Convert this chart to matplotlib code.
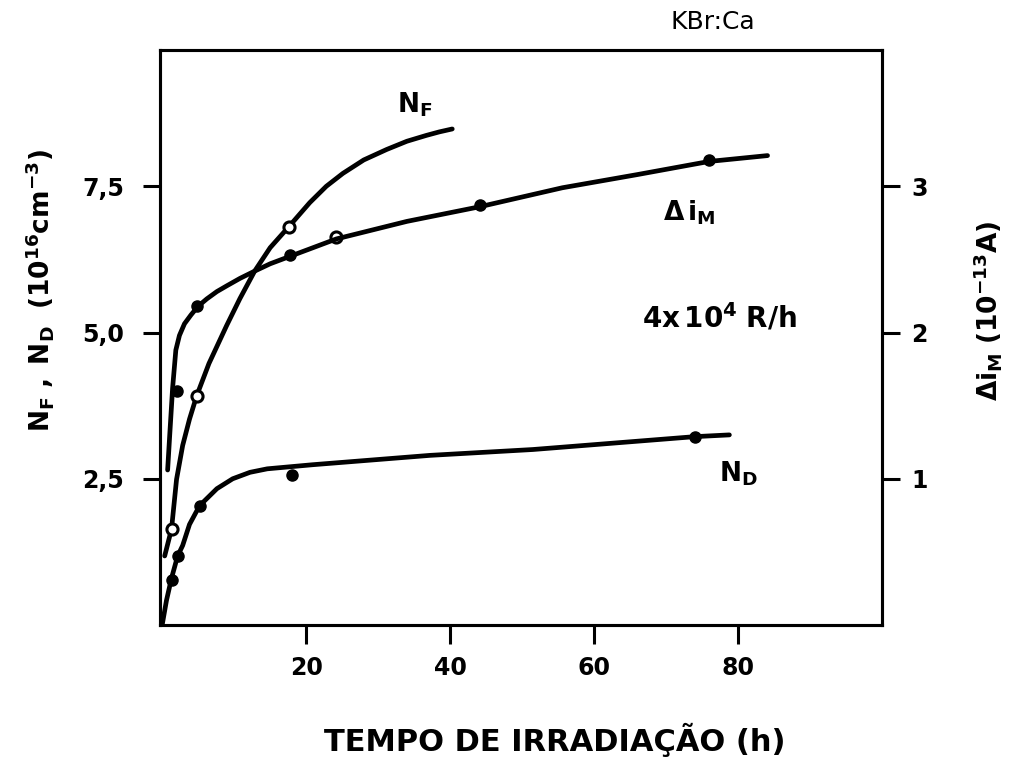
import matplotlib
matplotlib.use("Agg")
import matplotlib.pyplot as plt

# ---- data ----
# N_F curve (left axis, 10^16 cm^-3)
nf_curve_x = [0.35, 1.3, 2.0, 2.85, 3.8, 4.8, 6.5, 8.96, 10.8, 12.85, 15.0, 17.6, 20.5,
              22.8, 25.1, 28.0, 31.2, 34.0, 36.7, 38.5, 40.3]
nf_curve_y = [1.18, 1.64, 2.49, 3.07, 3.52, 3.92, 4.47, 5.12, 5.58, 6.05, 6.45, 6.81, 7.22,
              7.50, 7.72, 7.95, 8.13, 8.27, 8.37, 8.43, 8.48]
nf_pts_x = [1.3, 4.8, 17.6, 24.2]
nf_pts_y = [1.64, 3.92, 6.81, 6.64]

# Delta i_M curve (right axis, 10^-13 A)
di_curve_x = [0.76, 1.04, 1.45, 1.9, 2.4, 3.1, 4.0, 5.0, 6.2, 7.6, 9.0, 10.8, 12.85, 15.0,
              17.7, 24.2, 34.0, 44.1, 55.6, 66.0, 76.0, 84.1]
di_curve_y = [1.06, 1.29, 1.62, 1.88, 1.98, 2.06, 2.12, 2.18, 2.23, 2.28, 2.32, 2.37, 2.42, 2.47,
              2.52, 2.64, 2.76, 2.86, 2.99, 3.08, 3.17, 3.21]
di_pts_x = [2.0, 4.9, 17.7, 44.1, 76.0]
di_pts_y = [1.60, 2.18, 2.53, 2.87, 3.18]

# N_D curve (left axis)
nd_curve_x = [0.0, 0.6, 1.3, 2.15, 2.85, 3.8, 5.2, 7.6, 9.8, 12.2, 14.6, 20.9, 37.2, 51.5, 74.0, 78.8]
nd_curve_y = [0.0, 0.42, 0.80, 1.18, 1.36, 1.72, 2.04, 2.33, 2.50, 2.61, 2.67, 2.74, 2.90, 3.00, 3.22, 3.25]
nd_pts_x = [1.3, 2.15, 5.2, 18.1, 74.0]
nd_pts_y = [0.77, 1.18, 2.04, 2.56, 3.22]

x_ticks = [20, 40, 60, 80]
left_ticks = [2.5, 5.0, 7.5]
left_ticklabels = ["2,5", "5,0", "7,5"]
right_ticks = [1, 2, 3]

# ---- figure ----
fig = plt.figure(figsize=(10.18, 7.62), dpi=100)
ax = fig.add_axes([160/1018, 1-625/762, (882-160)/1018, (625-50)/762])
ax2 = ax.twinx()

YTOP = 9.83
ax.set_xlim(-0.3, 100)
ax.set_ylim(0, YTOP)
ax2.set_ylim(0, YTOP/2.5)

lw = 3.4
kw = dict(color="black", lw=lw, solid_capstyle="round", solid_joinstyle="round")
ax.plot(nf_curve_x, nf_curve_y, **kw)
ax.plot(nd_curve_x, nd_curve_y, **kw)
ax2.plot(di_curve_x, di_curve_y, **kw)

ax.plot(nf_pts_x, nf_pts_y, "o", ms=8, mfc="white", mec="black", mew=2.2, zorder=5)
ax.plot(nd_pts_x, nd_pts_y, "o", ms=8, color="black", zorder=5)
ax2.plot(di_pts_x, di_pts_y, "o", ms=8, color="black", zorder=5)

for a in (ax, ax2):
    for s in a.spines.values():
        s.set_linewidth(2.2)

ax.set_xticks(x_ticks)
ax.set_xticklabels([str(v) for v in x_ticks], fontsize=17, fontweight="bold")
ax.set_yticks(left_ticks)
ax.set_yticklabels(left_ticklabels, fontsize=17, fontweight="bold")
ax.tick_params(axis="x", direction="out", length=14, width=2.2, pad=8)
ax.tick_params(axis="y", direction="out", length=12, width=2.2, pad=14)
ax2.set_yticks(right_ticks)
ax2.set_yticklabels([str(v) for v in right_ticks], fontsize=17, fontweight="bold")
ax2.tick_params(axis="y", direction="out", length=13, width=2.2, pad=8)

fig.text(40/1018, 1-290/762, r"$\mathbf{N_F\ ,\ N_D\ \ (10^{16}cm^{-3})}$",
         rotation=90, ha="center", va="center", fontsize=19)
fig.text(988/1018, 1-311/762, r"$\mathbf{\Delta i_M\ (10^{-13}A)}$",
         rotation=90, ha="center", va="center", fontsize=19)
fig.text(555/1018, 1-740/762, "TEMPO DE IRRADIAÇÃO (h)", ha="center", va="center",
         fontsize=22, fontweight="bold")
fig.text(713/1018, 1-22/762, "KBr:Ca", ha="center", va="center", fontsize=18)

ax.text(35.1, 8.89, r"$\mathbf{N_F}$", fontsize=19, ha="center", va="center")
ax.text(73.3, 7.05, r"$\mathbf{\Delta\, i_M}$", fontsize=19, ha="center", va="center")
ax.text(77.4, 5.26, r"$\mathbf{4x\,10^4\ R/h}$", fontsize=20, ha="center", va="center")
ax.text(80.0, 2.59, r"$\mathbf{N_D}$", fontsize=19, ha="center", va="center")

fig.savefig("out.png", dpi=100)
